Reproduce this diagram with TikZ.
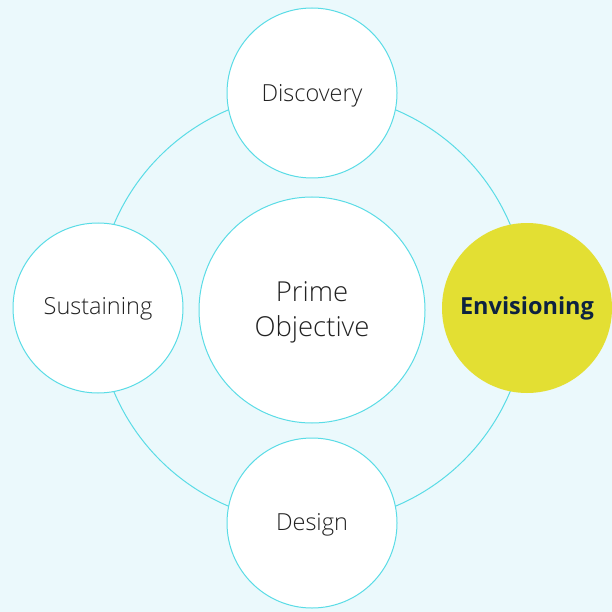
\documentclass[tikz,border=0pt]{standalone}
\usepackage{fontspec}
\setmainfont{Open Sans}[UprightFont=* Light, BoldFont=* Bold]
\definecolor{bgc}{HTML}{EBF9FC}
\definecolor{ringc}{HTML}{5ADCE6}
\definecolor{yel}{HTML}{E3DF33}
\definecolor{navy}{HTML}{0D2240}
\definecolor{txt}{HTML}{222222}
\begin{document}
\begin{tikzpicture}[x=1pt,y=-1pt,
  stage/.style={circle,draw=ringc,line width=1pt,fill=white,minimum size=170pt,inner sep=0pt},
  stagetext/.style={font=\fontsize{23.5}{28}\selectfont,text=txt,inner sep=0pt},
  hub/.style={circle,draw=ringc,line width=1pt,fill=white,minimum size=226pt,inner sep=0pt},
  hubtext/.style={align=center,font=\fontsize{27.5}{35}\selectfont,text=txt,inner sep=0pt},
  active/.style={stage,draw=none,fill=yel},
  activetext/.style={text=navy,font=\fontsize{23.5}{28}\selectfont\bfseries,inner sep=0pt}]
\fill[bgc] (0,0) rectangle (612,612);
\useasboundingbox (0,0) rectangle (612,612);
\coordinate (c) at (312,308);
\draw[ringc,line width=1pt] (c) circle[radius=215];
\node[hub] (prime) at (312,310) {};
\node[hubtext] (primet) at ([yshift=-2.5pt]prime.center) {Prime\\Objective};
\node[stage] (disc) at (312,93) {};
\node[stagetext] (disct) at ([yshift=-2.5pt]disc.center) {Discovery};
\node[stage] (sust) at (98,308) {};
\node[stagetext] (sustt) at ([yshift=-0.5pt]sust.center) {Sustaining};
\node[active] (env) at (527,308) {};
\node[activetext] (envt) at ([yshift=-0.5pt]env.center) {Envisioning};
\node[stage] (des) at (312,523) {};
\node[stagetext] (dest) at ([yshift=-2pt]des.center) {Design};
\end{tikzpicture}
\end{document}
